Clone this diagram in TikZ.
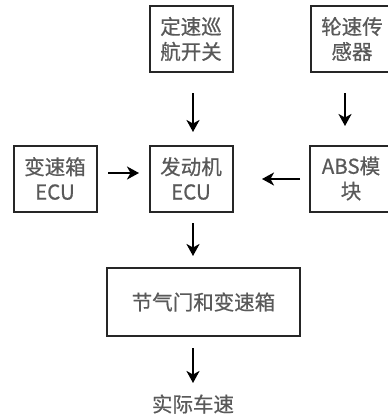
\documentclass[tikz,border=0pt]{standalone}
\usepackage{fontspec}
\setmainfont{Noto Sans CJK SC}[FakeBold=0.6]
\usetikzlibrary{arrows.meta}
\begin{document}
\begin{tikzpicture}[x=1pt,y=-1pt,
  box/.style={draw=black!85,line width=2pt,minimum width=83pt,minimum height=66pt,inner sep=1pt,
    align=center,text=black!65,font=\fontsize{20.5}{25}\selectfont},
  arr/.style={line width=2.8pt,-{Stealth[length=12pt,width=13pt,inset=3.5pt]}}]
\useasboundingbox (0,0) rectangle (388,416);
\node[box] (cc) at (191,39) {定速巡\\航开关};
\node[box] (ws) at (352,39) {轮速传\\感器};
\node[box] (tg) at (55,178.5) {变速箱\\ECU};
\node[box] (ecu) at (191,178.5) {发动机\\ECU};
\node[box] (abs) at (351,178.5) {ABS模\\块};
\node[box,minimum width=193pt,minimum height=68pt] (th) at (203.5,302) {节气门和变速箱};
\node[text=black!65,font=\fontsize{20.5}{25}\selectfont] (sp) at (193,404) {实际车速};
\coordinate (a1s) at (193,93); \coordinate (a1e) at (193,132);
\coordinate (a2s) at (345,93); \coordinate (a2e) at (345,126);
\coordinate (a3s) at (108,173); \coordinate (a3e) at (139,173);
\coordinate (a4s) at (300,179); \coordinate (a4e) at (262,179);
\coordinate (a5s) at (193,223); \coordinate (a5e) at (193,256);
\coordinate (a6s) at (193,348); \coordinate (a6e) at (193,383);
\draw[arr] (a1s) -- (a1e);
\draw[arr] (a2s) -- (a2e);
\draw[arr] (a3s) -- (a3e);
\draw[arr] (a4s) -- (a4e);
\draw[arr] (a5s) -- (a5e);
\draw[arr] (a6s) -- (a6e);
\end{tikzpicture}
\end{document}
